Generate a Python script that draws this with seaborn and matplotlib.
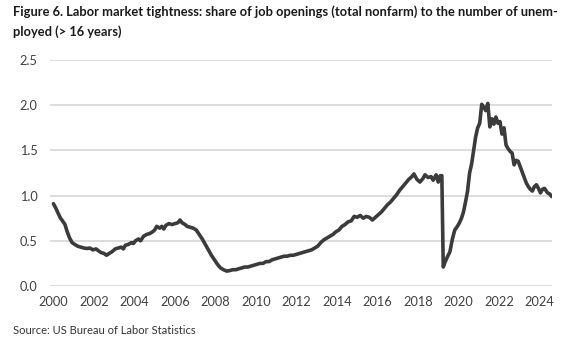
import matplotlib
matplotlib.use("Agg")
import matplotlib.pyplot as plt
import pandas as pd
import seaborn as sns

# Ratio of job openings (total nonfarm) to unemployed persons aged 16+
years = [
    2000.00, 2000.12, 2000.24, 2000.35, 2000.45, 2000.57, 2000.68, 2000.80, 2000.92,
    2001.05, 2001.20, 2001.35, 2001.50, 2001.65, 2001.80, 2001.95, 2002.10, 2002.22,
    2002.35, 2002.50, 2002.62, 2002.75, 2002.90, 2003.05, 2003.20, 2003.35, 2003.45,
    2003.55, 2003.70, 2003.85, 2003.95, 2004.05, 2004.20, 2004.30, 2004.45, 2004.60,
    2004.75, 2004.90, 2005.00, 2005.10, 2005.25, 2005.35, 2005.45, 2005.55, 2005.70,
    2005.85, 2006.00, 2006.15, 2006.25, 2006.35, 2006.50, 2006.60, 2006.75, 2006.90,
    2007.05, 2007.20, 2007.35, 2007.50, 2007.65, 2007.80, 2007.95, 2008.10, 2008.25,
    2008.40, 2008.55, 2008.70, 2008.85, 2009.00, 2009.15, 2009.30, 2009.45, 2009.60,
    2009.75, 2009.90, 2010.05, 2010.20, 2010.35, 2010.50, 2010.65, 2010.80, 2010.95,
    2011.10, 2011.25, 2011.40, 2011.55, 2011.70, 2011.85, 2012.00, 2012.15, 2012.30,
    2012.45, 2012.60, 2012.75, 2012.90, 2013.05, 2013.20, 2013.35, 2013.50, 2013.65,
    2013.80, 2013.95, 2014.10, 2014.25, 2014.40, 2014.55, 2014.70, 2014.85, 2015.00,
    2015.15, 2015.30, 2015.45, 2015.60, 2015.75, 2015.90, 2016.05, 2016.20, 2016.35,
    2016.50, 2016.65, 2016.80, 2016.95, 2017.10, 2017.25, 2017.40, 2017.55, 2017.70,
    2017.80, 2017.95, 2018.10, 2018.25, 2018.35, 2018.50, 2018.65, 2018.75, 2018.90,
    2019.00, 2019.10, 2019.18, 2019.25, 2019.33, 2019.45, 2019.58, 2019.70, 2019.82,
    2019.95, 2020.05, 2020.15, 2020.25, 2020.35, 2020.45, 2020.55, 2020.65, 2020.75,
    2020.85, 2020.95, 2021.05, 2021.15, 2021.25, 2021.35, 2021.45, 2021.55, 2021.65,
    2021.75, 2021.85, 2021.95, 2022.05, 2022.15, 2022.25, 2022.35, 2022.45, 2022.55,
    2022.65, 2022.75, 2022.85, 2022.95, 2023.05, 2023.15, 2023.25, 2023.35, 2023.45,
    2023.55, 2023.65, 2023.75, 2023.85, 2023.95, 2024.05, 2024.15, 2024.25, 2024.40,
    2024.50, 2024.60,
]
ratio = [
    0.91, 0.86, 0.80, 0.75, 0.72, 0.68, 0.60, 0.53, 0.48,
    0.46, 0.44, 0.43, 0.42, 0.415, 0.42, 0.40, 0.41, 0.39,
    0.37, 0.36, 0.34, 0.36, 0.38, 0.41, 0.42, 0.43, 0.41,
    0.45, 0.46, 0.48, 0.47, 0.50, 0.52, 0.50, 0.55, 0.57,
    0.58, 0.60, 0.62, 0.66, 0.64, 0.66, 0.63, 0.67, 0.69,
    0.68, 0.69, 0.70, 0.73, 0.70, 0.68, 0.66, 0.65, 0.64,
    0.62, 0.57, 0.52, 0.46, 0.40, 0.34, 0.29, 0.24, 0.20,
    0.18, 0.165, 0.17, 0.18, 0.18, 0.19, 0.20, 0.21, 0.21,
    0.22, 0.23, 0.24, 0.25, 0.25, 0.27, 0.27, 0.29, 0.30,
    0.31, 0.32, 0.33, 0.33, 0.34, 0.34, 0.35, 0.36, 0.37,
    0.38, 0.39, 0.40, 0.42, 0.44, 0.48, 0.51, 0.53, 0.55,
    0.57, 0.60, 0.62, 0.66, 0.68, 0.71, 0.72, 0.77, 0.76,
    0.78, 0.75, 0.77, 0.76, 0.73, 0.76, 0.79, 0.82, 0.86,
    0.90, 0.93, 0.97, 1.01, 1.06, 1.10, 1.14, 1.18, 1.21,
    1.24, 1.18, 1.15, 1.19, 1.23, 1.20, 1.21, 1.17, 1.23,
    1.15, 1.22, 1.22, 0.21, 0.26, 0.32, 0.38, 0.52, 0.62,
    0.66, 0.70, 0.75, 0.82, 0.93, 1.05, 1.25, 1.35, 1.50,
    1.65, 1.75, 1.80, 2.01, 1.98, 1.94, 2.02, 1.76, 1.85,
    1.79, 1.87, 1.80, 1.82, 1.68, 1.75, 1.56, 1.52, 1.49,
    1.47, 1.34, 1.39, 1.38, 1.32, 1.26, 1.20, 1.14, 1.10,
    1.07, 1.05, 1.10, 1.12, 1.08, 1.03, 1.07, 1.08, 1.03,
    1.02, 0.99,
]
x_ticks = list(range(2000, 2025, 2))
y_ticks = [0.0, 0.5, 1.0, 1.5, 2.0, 2.5]

title = ("Figure 6. Labor market tightness: share of job openings (total nonfarm) to the number of unem-\n"
         "ployed (> 16 years)")
source = "Source: US Bureau of Labor Statistics"

df = pd.DataFrame({"year": years, "ratio": ratio})

sns.set_style("white")
plt.rcParams["font.family"] = ["Lato", "DejaVu Sans"]

fig = plt.figure(figsize=(5.67, 3.47), dpi=100)
ax = fig.add_axes([50 / 567, 61 / 347, 502 / 567, 226 / 347])

for y in y_ticks:
    ax.axhline(y, color="#d9d9d9", lw=1.3, zorder=0)

sns.lineplot(data=df, x="year", y="ratio", ax=ax, color="#3b3b3b", lw=2.6,
             solid_joinstyle="round", solid_capstyle="round")

ax.set_xlim(1999.83, 2024.62)
ax.set_ylim(0, 2.5)
ax.set_xticks(x_ticks)
ax.set_xticklabels([str(t) for t in x_ticks])
ax.set_yticks(y_ticks)
ax.set_yticklabels([f"{t:.1f}" for t in y_ticks])
ax.tick_params(axis="both", length=0, labelsize=9.2, labelcolor="#404040")
ax.tick_params(axis="x", pad=7)
ax.tick_params(axis="y", pad=9)
ax.set_xlabel("")
ax.set_ylabel("")
for s in ax.spines.values():
    s.set_visible(False)

fig.text(13 / 567, 1 - 5 / 347, title, ha="left", va="top", fontsize=9.3,
         fontweight="bold", color="#1a1a1a", linespacing=1.75)
fig.text(13 / 567, 1 - 331 / 347, source, ha="left", va="center", fontsize=8.0,
         color="#333333")

fig.savefig("out.png", dpi=100, facecolor="white")
